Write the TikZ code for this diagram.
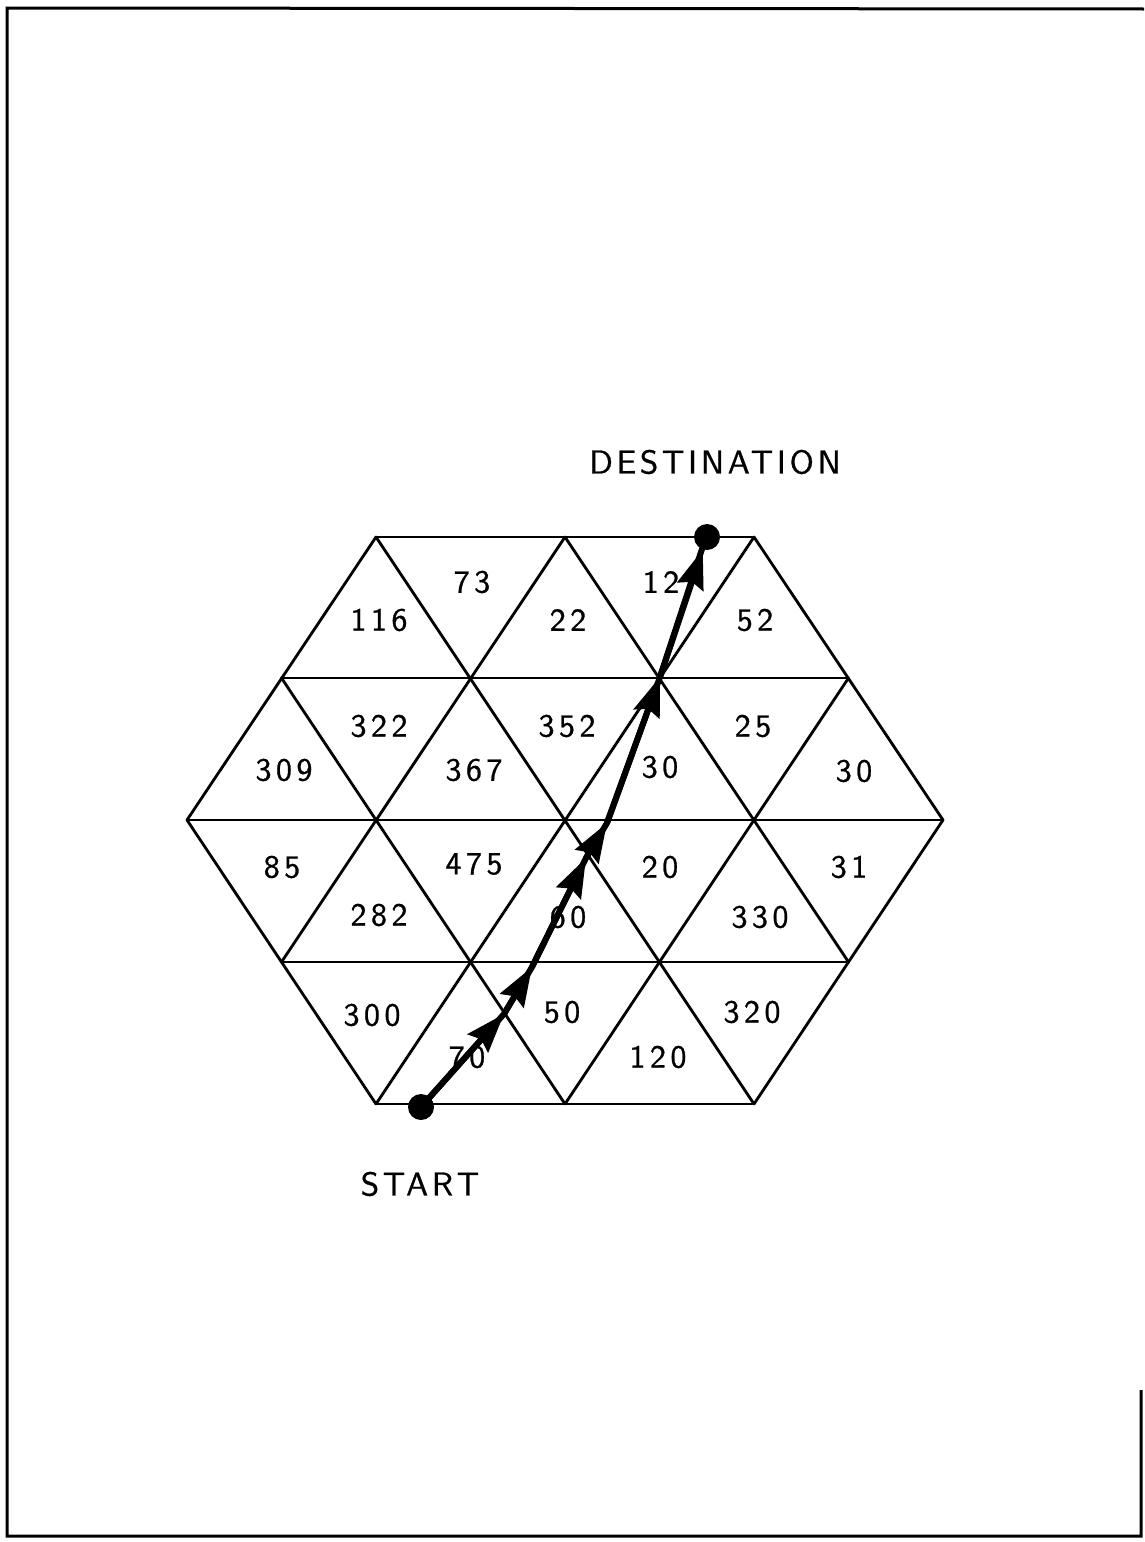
\documentclass[tikz,border=0pt]{standalone}
\usepackage{fontspec}
\usetikzlibrary{arrows.meta}
\newfontfamily\digfont{lmsans10-regular.otf}[LetterSpace=14,FakeBold=0.8]
\newfontfamily\wordfont{lmsans10-regular.otf}[LetterSpace=11,FakeBold=0.8]
\begin{document}
\begin{tikzpicture}[x=1pt,y=-1pt,
  grid/.style={line width=2.8pt, line join=round, line cap=round},
  lbl/.style={inner sep=0pt, font=\digfont\fontsize{32}{38}\selectfont},
  bigtext/.style={inner sep=0pt, font=\wordfont\fontsize{33}{40}\selectfont},
  routeline/.style={line width=6pt, line cap=round, line join=round},
  route/.style={line width=6pt, -{Stealth[length=39pt,width=27pt,inset=5pt]}},
  dot/.style={circle, fill=black, inner sep=0pt, minimum size=26pt},
  frame/.style={line width=3pt}]
\useasboundingbox (0,0) rectangle (1144,1542);
% frame
\draw[frame] (1141,1390) -- (1141,1536) -- (7,1536) -- (7,8) -- (1144,9);
% lattice vertices
\coordinate (a0) at (376,537);   \coordinate (a1) at (565,537);   \coordinate (a2) at (754,537);
\coordinate (b0) at (281.5,678); \coordinate (b1) at (470.5,678); \coordinate (b2) at (659.5,678); \coordinate (b3) at (848.5,678);
\coordinate (c0) at (187,820);   \coordinate (c1) at (376,820);   \coordinate (c2) at (565,820);   \coordinate (c3) at (754,820); \coordinate (c4) at (943,820);
\coordinate (d0) at (281.5,962); \coordinate (d1) at (470.5,962); \coordinate (d2) at (659.5,962); \coordinate (d3) at (848.5,962);
\coordinate (e0) at (376,1104);  \coordinate (e1) at (565,1104);  \coordinate (e2) at (754,1104);
% horizontal lines
\draw[grid] (a0) -- (a2);
\draw[grid] (b0) -- (b3);
\draw[grid] (c0) -- (c4);
\draw[grid] (d0) -- (d3);
\draw[grid] (e0) -- (e2);
% rising lines
\draw[grid] (c0) -- (a0);
\draw[grid] (d0) -- (a1);
\draw[grid] (e0) -- (a2);
\draw[grid] (e1) -- (b3);
\draw[grid] (e2) -- (c4);
% falling lines
\draw[grid] (c0) -- (e0);
\draw[grid] (b0) -- (e1);
\draw[grid] (a0) -- (e2);
\draw[grid] (a1) -- (d3);
\draw[grid] (a2) -- (c4);
% labels
\node[lbl] (l116) at (379,620) {116};
\node[lbl] (l73)  at (472,582) {73};
\node[lbl] (l22)  at (568,620) {22};
\node[lbl] (l12)  at (661,582) {12};
\node[lbl] (l52)  at (755,620) {52};
\node[lbl] (l322) at (379,726) {322};
\node[lbl] (l352) at (567,726) {352};
\node[lbl] (l25)  at (753,726) {25};
\node[lbl] (l309) at (284,770) {309};
\node[lbl] (l367) at (474,770) {367};
\node[lbl] (l30a) at (660,767) {30};
\node[lbl] (l30b) at (854,771) {30};
\node[lbl] (l85)  at (282,867) {85};
\node[lbl] (l475) at (474,864) {475};
\node[lbl] (l20)  at (660,867) {20};
\node[lbl] (l31)  at (849,867) {31};
\node[lbl] (l282) at (379,915) {282};
\node[lbl] (l60)  at (568,917) {60};
\node[lbl] (l330) at (760,917) {330};
\node[lbl] (l300) at (372,1015) {300};
\node[lbl] (l70)  at (467,1057) {70};
\node[lbl] (l50)  at (562,1012) {50};
\node[lbl] (l120) at (658,1057) {120};
\node[lbl] (l320) at (752,1012) {320};
% titles
\node[bigtext] (tdest) at (715,462) {DESTINATION};
\node[bigtext] (tstart) at (420,1184) {START};
% route
\node[dot] (start) at (421,1107) {};
\node[dot] (dest) at (707,537) {};
\coordinate (p1) at (504,1014);
\coordinate (p2) at (532,967);
\coordinate (p3) at (586,858);
\coordinate (p4) at (607,823);
\coordinate (p5) at (660,677);
\coordinate (p6) at (702,549);
\draw[routeline] (start.center) -- (p1) -- (p2) -- (p3) -- (p4) -- (p5) -- (p6);
\draw[route] (start.center) -- (p1);
\draw[route] (p1) -- (p2);
\draw[route] (p2) -- (p3);
\draw[route] (p3) -- (p4);
\draw[route] (p4) -- (p5);
\draw[route] (p5) -- (dest);
\end{tikzpicture}
\end{document}
